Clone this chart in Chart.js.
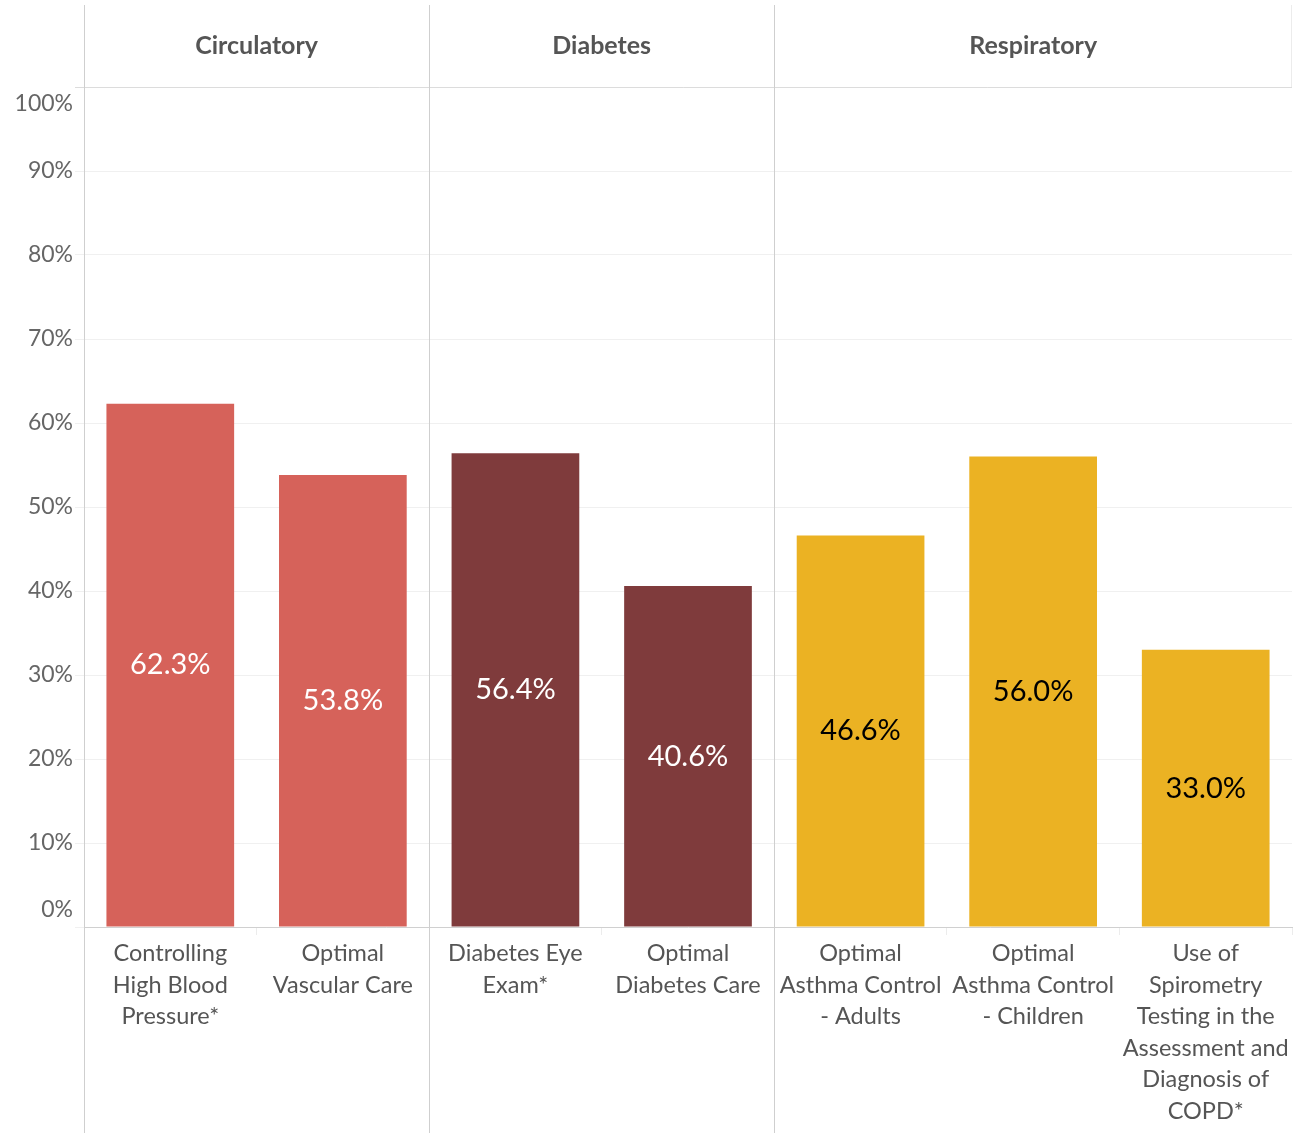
<!DOCTYPE html>
<html>
<head>
<meta charset="utf-8">
<script src="https://cdn.jsdelivr.net/npm/chart.js@4/dist/chart.umd.min.js"></script>
<style>
  html, body { margin: 0; padding: 0; background: #fff; }
  #wrap { width: 1293px; height: 1133px; }
</style>
</head>
<body>
<div id="wrap"><canvas id="chart" width="1293" height="1133"></canvas></div>
<script>
// data
var CATEGORIES = [
  ["Controlling", "High Blood", "Pressure*"],
  ["Optimal", "Vascular Care"],
  ["Diabetes Eye", "Exam*"],
  ["Optimal", "Diabetes Care"],
  ["Optimal", "Asthma Control", "- Adults"],
  ["Optimal", "Asthma Control", "- Children"],
  ["Use of", "Spirometry", "Testing in the", "Assessment and", "Diagnosis of", "COPD*"]
];
var VALUES = [62.3, 53.8, 56.4, 40.6, 46.6, 56.0, 33.0];
var GROUPS = ["Circulatory", "Diabetes", "Respiratory"];
var GROUP_SIZES = [2, 2, 3];
var GROUP_COLORS = ["#d6625a", "#7f3b3c", "#ebb223"];
var GROUP_LABEL_COLORS = ["#ffffff", "#ffffff", "#000000"];
var Y_TICKS = [0, 10, 20, 30, 40, 50, 60, 70, 80, 90, 100];

var FONT = "Lato, 'Noto Sans', sans-serif";

// expand group colours per bar
var barColors = [];
var labelColors = [];
GROUP_SIZES.forEach(function (n, g) {
  for (var i = 0; i < n; i++) {
    barColors.push(GROUP_COLORS[g]);
    labelColors.push(GROUP_LABEL_COLORS[g]);
  }
});

function boundaryX(xs, i) {
  // pixel of the left edge of category i
  if (i <= 0) return xs.left;
  if (i >= xs.ticks.length) return xs.right;
  return (xs.getPixelForValue(i - 1) + xs.getPixelForValue(i)) / 2;
}

var framePlugin = {
  id: "frame",
  afterDraw: function (chart) {
    var ctx = chart.ctx;
    var xs = chart.scales.x;
    var ys = chart.scales.y;
    var area = chart.chartArea;
    ctx.save();

    // header bottom line
    ctx.strokeStyle = "#dcdcdc";
    ctx.lineWidth = 1;
    ctx.beginPath();
    ctx.moveTo(75, area.top + 0.5);
    ctx.lineTo(area.right, area.top + 0.5);
    ctx.stroke();

    // faint right edge of header
    ctx.strokeStyle = "#ececec";
    ctx.beginPath();
    ctx.moveTo(area.right - 0.5, 5);
    ctx.lineTo(area.right - 0.5, area.top);
    ctx.stroke();

    // group dividers and headers
    var start = 0;
    GROUP_SIZES.forEach(function (n, g) {
      var left = boundaryX(xs, start);
      var right = boundaryX(xs, start + n);
      ctx.strokeStyle = "#cfcfcf";
      ctx.beginPath();
      ctx.moveTo(Math.round(left) + 0.5, 5);
      ctx.lineTo(Math.round(left) + 0.5, chart.height);
      ctx.stroke();

      ctx.fillStyle = "#555555";
      ctx.font = "bold 25px " + FONT;
      ctx.textAlign = "center";
      ctx.textBaseline = "middle";
      ctx.fillText(GROUPS[g], (left + right) / 2, 46);
      start += n;
    });

    // y tick labels, kept inside the pane like the original
    ctx.fillStyle = "#666666";
    ctx.font = "23px " + FONT;
    ctx.textAlign = "right";
    ctx.textBaseline = "middle";
    Y_TICKS.forEach(function (v) {
      var y = ys.getPixelForValue(v);
      y = Math.max(area.top + 17, Math.min(area.bottom - 17, y));
      ctx.fillText(v + "%", 73, y);
    });

    // value labels centred in each bar
    var meta = chart.getDatasetMeta(0);
    ctx.font = "29px " + FONT;
    ctx.textAlign = "center";
    meta.data.forEach(function (bar, i) {
      ctx.fillStyle = labelColors[i];
      ctx.fillText(VALUES[i].toFixed(1) + "%", bar.x, (bar.y + bar.base) / 2);
    });
    ctx.restore();
  }
};

new Chart(document.getElementById("chart"), {
  type: "bar",
  data: {
    labels: CATEGORIES,
    datasets: [{
      data: VALUES,
      backgroundColor: barColors,
      borderWidth: 0,
      barPercentage: 0.74,
      categoryPercentage: 1
    }]
  },
  options: {
    responsive: false,
    animation: false,
    layout: { padding: { top: 87, right: 1, left: 0, bottom: 0 } },
    plugins: { legend: { display: false }, tooltip: { enabled: false } },
    scales: {
      x: {
        grid: { offset: true, drawOnChartArea: false, tickLength: 8, color: "#ececec" },
        border: { color: "#d0d0d0" },
        ticks: {
          color: "#555555",
          font: { family: FONT, size: 23.5, lineHeight: 1.34 },
          padding: 3,
          maxRotation: 0,
          autoSkip: false
        },
        afterFit: function (scale) { scale.height = 206; }
      },
      y: {
        min: 0,
        max: 100,
        ticks: { stepSize: 10, display: false },
        grid: { color: "#f0f0f0", tickLength: 9 },
        border: { display: false },
        afterFit: function (scale) { scale.width = 84; }
      }
    }
  },
  plugins: [framePlugin]
});
</script>
</body>
</html>
